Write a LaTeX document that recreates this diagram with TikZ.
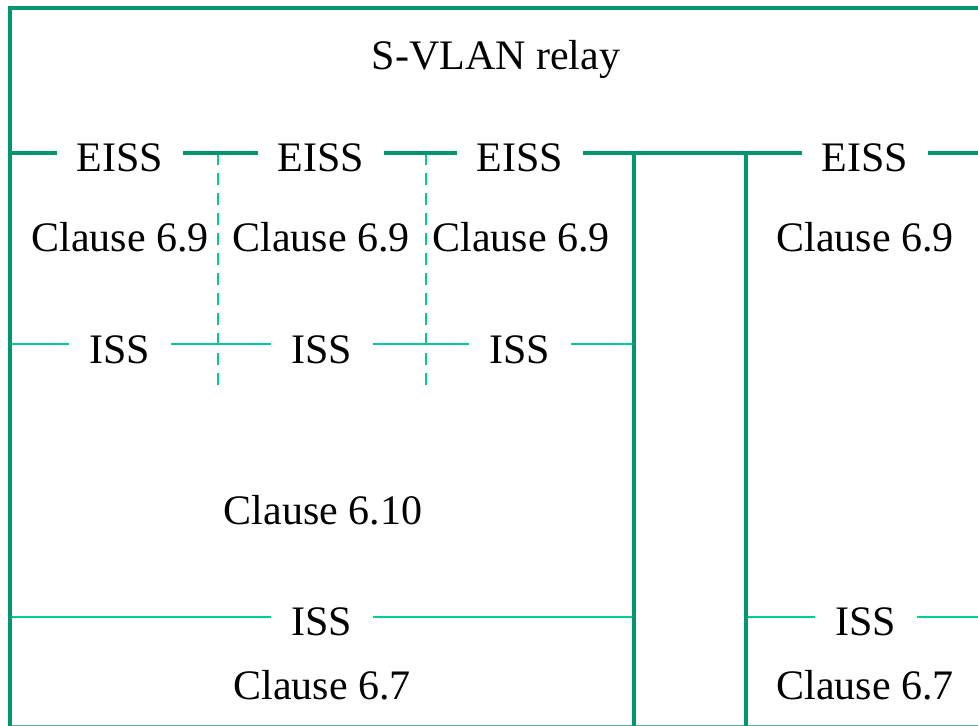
\documentclass[tikz,border=0pt]{standalone}
\usepackage{fontspec}
\setmainfont{Liberation Serif}
\definecolor{relaygreen}{RGB}{0,150,112}
\definecolor{issgreen}{RGB}{0,204,152}
\definecolor{edgegreen}{RGB}{90,175,145}
\begin{document}
\begin{tikzpicture}[x=1pt, y=-1pt,
  lbl/.style={anchor=base, inner xsep=20pt, inner ysep=0pt, font=\fontsize{42}{42}\selectfont},
  relayline/.style={draw=relaygreen, line width=4.5pt},
  issline/.style={draw=issgreen, line width=2pt},
  portline/.style={draw=issgreen, line width=2pt, dash pattern=on 12pt off 8pt}]
  \useasboundingbox (0,0) rectangle (978,726);

  % texts
  \node[lbl] (relay) at (496,69) {S-VLAN relay};
  \node[lbl] (eissA) at (120,171) {EISS};
  \node[lbl] (eissB) at (321,171) {EISS};
  \node[lbl] (eissC) at (520,171) {EISS};
  \node[lbl] (eissD) at (865,171) {EISS};
  \node[lbl] (clA) at (120,251) {Clause 6.9};
  \node[lbl] (clB) at (321,251) {Clause 6.9};
  \node[lbl] (clC) at (521,251) {Clause 6.9};
  \node[lbl] (clD) at (865,251) {Clause 6.9};
  \node[lbl] (issA) at (120,363) {ISS};
  \node[lbl] (issB) at (322,363) {ISS};
  \node[lbl] (issC) at (520,363) {ISS};
  \node[lbl] (cbridge) at (323,524) {Clause 6.10};
  \node[lbl] (issL) at (322,635) {ISS};
  \node[lbl] (issR) at (866,635) {ISS};
  \node[lbl] (macL) at (322,699) {Clause 6.7};
  \node[lbl] (macR) at (865,699) {Clause 6.7};

  % free ends
  \coordinate (topL) at (10,8);
  \coordinate (topR) at (978,8);
  \coordinate (botL) at (10,726);
  \coordinate (eissL) at (10,153);
  \coordinate (eissR) at (978,153);
  \coordinate (issUL) at (10,344);
  \coordinate (issUR) at (634,344);
  \coordinate (issLL) at (10,617);
  \coordinate (issLR) at (634,617);
  \coordinate (issRL) at (746,617);
  \coordinate (issRR) at (978,617);
  \coordinate (vA) at (634,153);
  \coordinate (vAb) at (634,726);
  \coordinate (vB) at (746,153);
  \coordinate (vBb) at (746,726);
  \coordinate (dA) at (218,153);
  \coordinate (dAb) at (218,385);
  \coordinate (dB) at (426,153);
  \coordinate (dBb) at (426,385);

  % thin ISS lines
  \draw[issline] (issUL) -- (issUL -| issA.west);
  \draw[issline] (issUL -| issA.east) -- (issUL -| issB.west);
  \draw[issline] (issUL -| issB.east) -- (issUL -| issC.west);
  \draw[issline] (issUL -| issC.east) -- (issUR);
  \draw[issline] (issLL) -- (issLL -| issL.west);
  \draw[issline] (issLL -| issL.east) -- (issLR);
  \draw[issline] (issRL) -- (issRL -| issR.west);
  \draw[issline] (issRL -| issR.east) -- (issRR);
  \draw[portline] (dA) -- (dAb);
  \draw[portline] (dB) -- (dBb);
  \draw[draw=edgegreen, line width=1pt] (10,725.5) -- (978,725.5);

  % relay frame and EISS line
  \draw[relayline] (topR) -- (topL) -- (botL);
  \draw[relayline] (eissL) -- (eissL -| eissA.west);
  \draw[relayline] (eissL -| eissA.east) -- (eissL -| eissB.west);
  \draw[relayline] (eissL -| eissB.east) -- (eissL -| eissC.west);
  \draw[relayline] (eissL -| eissC.east) -- (eissL -| eissD.west);
  \draw[relayline] (eissL -| eissD.east) -- (eissR);
  \draw[relayline] (vA) -- (vAb);
  \draw[relayline] (vB) -- (vBb);
\end{tikzpicture}
\end{document}
